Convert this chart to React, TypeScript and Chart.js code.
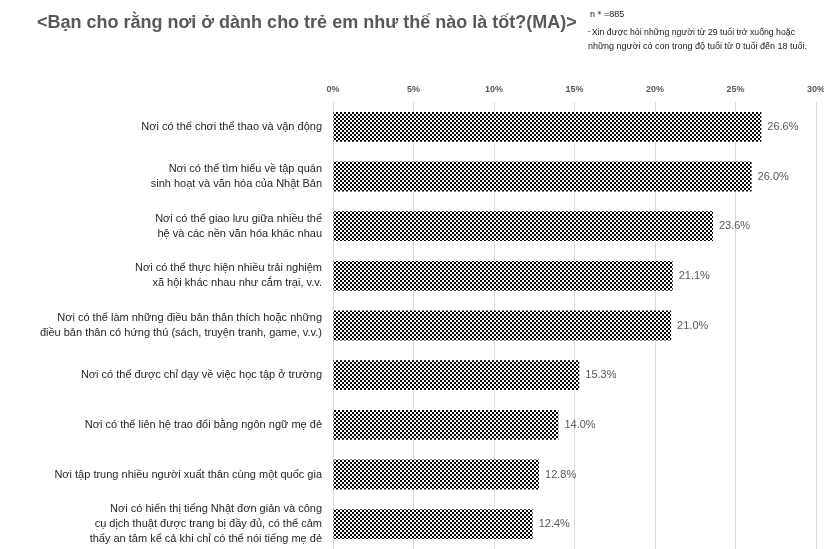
import React, { useEffect, useRef } from "react";
import { Chart, registerables } from "chart.js";

Chart.register(...registerables);

const categories: string[][] = [
  ["Nơi có thể chơi thể thao và vận động"],
  ["Nơi có thể tìm hiểu về tập quán", "sinh hoạt và văn hóa của Nhật Bản"],
  ["Nơi có thể giao lưu giữa nhiều thế", "hệ và các nền văn hóa khác nhau"],
  ["Nơi có thể thực hiện nhiều trải nghiệm", "xã hội khác nhau như cắm trại, v.v."],
  ["Nơi có thể làm những điều bản thân thích hoặc những", "điều bản thân có hứng thú (sách, truyện tranh, game, v.v.)"],
  ["Nơi có thể được chỉ dạy về việc học tập ở trường"],
  ["Nơi có thể liên hệ trao đổi bằng ngôn ngữ mẹ đẻ"],
  ["Nơi tập trung nhiều người xuất thân cùng một quốc gia"],
  ["Nơi có hiển thị tiếng Nhật đơn giản và công", "cụ dịch thuật được trang bị đầy đủ, có thể cảm", "thấy an tâm kể cả khi chỉ có thể nói tiếng mẹ đẻ"],
];
const values: number[] = [26.6, 26.0, 23.6, 21.1, 21.0, 15.3, 14.0, 12.8, 12.4];
const tickValues: number[] = [0, 5, 10, 15, 20, 25, 30];

const titleText = "<Bạn cho rằng nơi ở dành cho trẻ em như thế nào là tốt?(MA)>";
const sampleText = "n＊=885";
const noteLines: string[] = [
  "･Xin được hỏi những người từ 29 tuổi trở xuống hoặc",
  "những người có con trong độ tuổi từ 0 tuổi đến 18 tuổi.",
];

function makePattern(ctx: CanvasRenderingContext2D): CanvasPattern | string {
  const c = document.createElement("canvas");
  c.width = 4;
  c.height = 4;
  const p = c.getContext("2d");
  if (!p) return "#000";
  p.fillStyle = "#ffffff";
  p.fillRect(0, 0, 4, 4);
  p.fillStyle = "#000000";
  p.fillRect(0, 0, 2, 2);
  p.fillRect(2, 2, 2, 2);
  return ctx.createPattern(c, "repeat") || "#000";
}

const textPlugin = {
  id: "texts",
  afterDraw(chart: any) {
    const ctx: CanvasRenderingContext2D = chart.ctx;
    ctx.save();
    ctx.fillStyle = "#595959";
    ctx.font = "bold 18px 'Liberation Sans', Arial, sans-serif";
    ctx.textBaseline = "middle";
    ctx.textAlign = "left";
    ctx.fillText(titleText, 37, 23, 541);
    ctx.fillStyle = "#1a1a1a";
    ctx.font = "9px 'Liberation Sans', Arial, sans-serif";
    ctx.fillText(sampleText, 590, 15, 42);
    ctx.font = "9px 'Liberation Sans', Arial, sans-serif";
    ctx.fillText(noteLines[0], 587, 33, 208);
    ctx.fillText(noteLines[1], 588, 47, 235);
    const meta = chart.getDatasetMeta(0);
    ctx.fillStyle = "#595959";
    ctx.font = "11px 'Liberation Sans', Arial, sans-serif";
    meta.data.forEach((bar: any, i: number) => {
      ctx.fillText(values[i].toFixed(1) + "%", bar.x + 6, bar.y);
    });
    ctx.restore();
  },
};

export default function App() {
  const ref = useRef<HTMLCanvasElement>(null);
  useEffect(() => {
    const canvas = ref.current;
    if (!canvas) return;
    const ctx = canvas.getContext("2d");
    if (!ctx) return;
    const pattern = makePattern(ctx);
    const chart = new Chart(ctx, {
      type: "bar",
      data: {
        labels: categories as any,
        datasets: [
          {
            data: values,
            backgroundColor: pattern as any,
            borderWidth: 0,
            barPercentage: 0.6,
            categoryPercentage: 1,
          },
        ],
      },
      options: {
        indexAxis: "y",
        responsive: false,
        animation: false,
        layout: { padding: { left: 0, right: 8, top: 0, bottom: 0 } },
        plugins: {
          legend: { display: false },
          tooltip: { enabled: false },
          title: { display: false },
        },
        scales: {
          x: {
            position: "top",
            min: 0,
            max: 30,
            afterBuildTicks: (scale: any) => {
              scale.ticks = tickValues.map((v) => ({ value: v }));
            },
            afterFit: (scale: any) => {
              scale.height = 102;
              scale.paddingLeft = 0;
              scale.paddingRight = 0;
            },
            grid: { color: "#d9d9d9", lineWidth: 1, drawTicks: false },
            border: { display: false },
            ticks: {
              padding: 7,
              color: "#595959",
              font: { family: "'Liberation Sans Narrow', 'Liberation Sans', Arial", size: 9, weight: "bold" },
              callback: (v: any) => v + "%",
            },
          },
          y: {
            afterFit: (scale: any) => {
              scale.width = 333;
              scale.paddingTop = 0;
              scale.paddingBottom = 0;
            },
            grid: { display: false, drawTicks: false },
            border: { display: true, color: "#d9d9d9", width: 1 },
            ticks: {
              padding: 11,
              color: "#262626",
              font: { family: "'Liberation Sans', Arial, sans-serif", size: 11, lineHeight: 1.35 },
            },
          },
        },
      },
      plugins: [textPlugin],
    } as any);
    return () => chart.destroy();
  }, []);
  return (
    <div style={{ position: "fixed", left: 0, top: 0, width: 824, height: 549, background: "#fff" }}>
      <canvas ref={ref} width={824} height={549} style={{ display: "block" }} />
    </div>
  );
}
